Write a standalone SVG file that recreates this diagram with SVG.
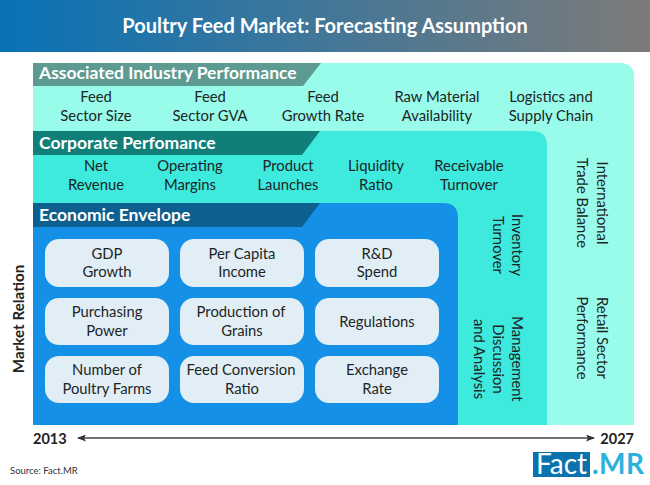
<svg xmlns="http://www.w3.org/2000/svg" width="650" height="485" viewBox="0 0 650 485">
<style>
text{font-family:"Lato","Open Sans","Liberation Sans",sans-serif}
.t{font-size:14.800px;fill:#1c2526;text-anchor:middle}
.h{font-size:17.500px;font-weight:700;fill:#fff}
.n{fill:#e2eef6}
</style>
<defs>
<linearGradient id="hd" x1="0" x2="1" y1="0" y2="0"><stop offset="0" stop-color="#0872b6"/><stop offset="1" stop-color="#7d7b79"/></linearGradient>
<marker id="ar" markerWidth="9" markerHeight="7" refX="8" refY="3.5" orient="auto-start-reverse" markerUnits="userSpaceOnUse"><path d="M0 0L9 3.5L0 7L2 3.5Z" fill="#333"/></marker>
</defs>
<rect width="650" height="485" fill="#fff"/>
<g id="title">
<rect width="650" height="52" fill="url(#hd)"/>
<text x="325" y="33" text-anchor="middle" style="font-size:20px;font-weight:700;fill:#fff">Poultry Feed Market: Forecasting Assumption</text>
</g>
<g id="panel-associated">
<path d="M33 63H620Q634 63 634 77V425H33Z" fill="#99fbe9"/>
<path d="M33 63H321L303 86H33Z" fill="#5d9a92"/>
<text class="h" x="39" y="79">Associated Industry Performance</text>
<text class="t" x="96" y="102">Feed</text><text class="t" x="96" y="121">Sector Size</text>
<text class="t" x="210" y="102">Feed</text><text class="t" x="210" y="121">Sector GVA</text>
<text class="t" x="323" y="102">Feed</text><text class="t" x="323" y="121">Growth Rate</text>
<text class="t" x="437" y="102">Raw Material</text><text class="t" x="437" y="121">Availability</text>
<text class="t" x="551" y="102">Logistics and</text><text class="t" x="551" y="121">Supply Chain</text>
<text class="t" transform="translate(597 203) rotate(90)">International</text>
<text class="t" transform="translate(577 203) rotate(90)">Trade Balance</text>
<text class="t" transform="translate(597 338) rotate(90)">Retail Sector</text>
<text class="t" transform="translate(577 338) rotate(90)">Performance</text>
</g>
<g id="panel-corporate">
<path d="M33 131H532Q547 131 547 146V425H33Z" fill="#3eeade"/>
<path d="M33 131H320L302 155H33Z" fill="#0f7f78"/>
<text class="h" x="39" y="149">Corporate Perfomance</text>
<text class="t" x="96" y="171">Net</text><text class="t" x="96" y="190">Revenue</text>
<text class="t" x="190" y="171">Operating</text><text class="t" x="190" y="190">Margins</text>
<text class="t" x="288" y="171">Product</text><text class="t" x="288" y="190">Launches</text>
<text class="t" x="376" y="171">Liquidity</text><text class="t" x="376" y="190">Ratio</text>
<text class="t" x="469" y="171">Receivable</text><text class="t" x="469" y="190">Turnover</text>
<text class="t" transform="translate(512 245) rotate(90)">Inventory</text>
<text class="t" transform="translate(493 245) rotate(90)">Turnover</text>
<text class="t" transform="translate(512 359) rotate(90)">Management</text>
<text class="t" transform="translate(493 359) rotate(90)">Discussion</text>
<text class="t" transform="translate(474 359) rotate(90)">and Analysis</text>
</g>
<g id="panel-economic">
<path d="M33 203H443Q458 203 458 218V425H33Z" fill="#1490e6"/>
<path d="M33 203H320L302 227H33Z" fill="#0c5f8e"/>
<text class="h" x="39" y="221">Economic Envelope</text>
</g>
<g id="node-gdp"><rect class="n" x="45" y="239" width="124" height="48" rx="14"/><text class="t" x="107" y="259">GDP</text><text class="t" x="107" y="277">Growth</text></g>
<g id="node-capita"><rect class="n" x="180" y="239" width="124" height="48" rx="14"/><text class="t" x="242" y="259">Per Capita</text><text class="t" x="242" y="277">Income</text></g>
<g id="node-rd"><rect class="n" x="315" y="239" width="124" height="48" rx="14"/><text class="t" x="377" y="259">R&amp;D</text><text class="t" x="377" y="277">Spend</text></g>
<g id="node-purchasing"><rect class="n" x="45" y="298" width="124" height="47" rx="14"/><text class="t" x="107" y="317">Purchasing</text><text class="t" x="107" y="336">Power</text></g>
<g id="node-grains"><rect class="n" x="180" y="298" width="124" height="47" rx="14"/><text class="t" x="241" y="317">Production of</text><text class="t" x="242" y="336">Grains</text></g>
<g id="node-regulations"><rect class="n" x="315" y="298" width="124" height="47" rx="14"/><text class="t" x="377" y="327">Regulations</text></g>
<g id="node-farms"><rect class="n" x="45" y="356" width="124" height="47" rx="14"/><text class="t" x="107" y="375">Number of</text><text class="t" x="107" y="394">Poultry Farms</text></g>
<g id="node-fcr"><rect class="n" x="180" y="356" width="124" height="47" rx="14"/><text class="t" x="241" y="375">Feed Conversion</text><text class="t" x="242" y="394">Ratio</text></g>
<g id="node-exchange"><rect class="n" x="315" y="356" width="124" height="47" rx="14"/><text class="t" x="377" y="375">Exchange</text><text class="t" x="377" y="394">Rate</text></g>
<g id="connectors">
<line x1="78" y1="438" x2="594" y2="438" stroke="#444" stroke-width="1.500" marker-start="url(#ar)" marker-end="url(#ar)"/>
</g>
<g id="axis">
<text x="33" y="444" style="font-size:14.500px;font-weight:700;fill:#222">2013</text>
<text x="634" y="444" text-anchor="end" style="font-size:14.500px;font-weight:700;fill:#222">2027</text>
<text transform="translate(24 319) rotate(-90)" text-anchor="middle" style="font-size:15.200px;font-weight:700;fill:#222">Market Relation</text>
<text x="10" y="474" style="font-size:9.500px;fill:#333">Source: Fact.MR</text>
</g>
<g id="logo">
<rect x="533" y="452" width="57" height="25" fill="#0a72ad"/>
<text x="536" y="474" style="font-size:28px;fill:#fff" textLength="51">Fact</text>
<text x="592" y="474" style="font-size:28px;font-weight:700;fill:#2cb1de" textLength="52">.MR</text>
</g>
</svg>
